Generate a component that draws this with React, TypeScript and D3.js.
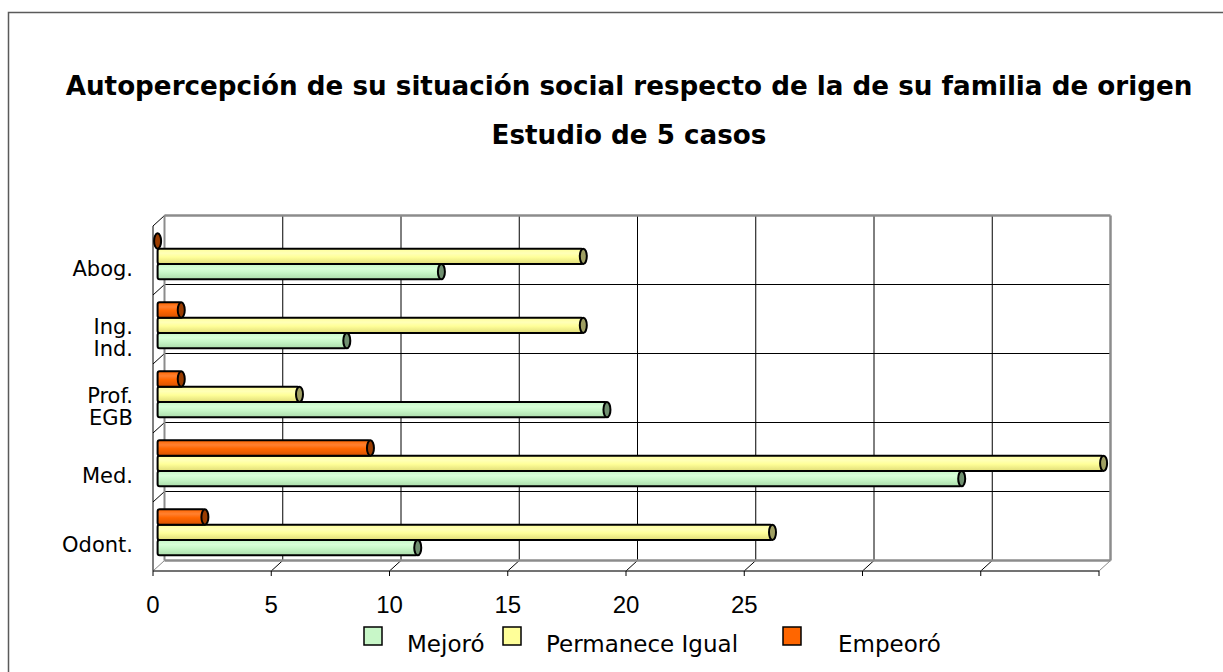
import * as d3 from 'd3';

// Data (Excel order: first category at the bottom)
const categories = ['Odont.', 'Med.', 'Prof.\nEGB', 'Ing.\nInd.', 'Abog.'];
const seriesNames = ['Mejoró', 'Permanece Igual', 'Empeoró'];
const mejoro = [11, 34, 19, 8, 12];
const permanece = [26, 40, 6, 18, 18];
const empeoro = [2, 9, 1, 1, 0];
const tickValues = [0, 5, 10, 15, 20, 25, 30, 35, 40];
const tickLabels = ['0', '5', '10', '15', '20', '25', '', '', ''];

const seriesValues = [mejoro, permanece, empeoro];
const seriesColors = [
  { light: '#d8ffd8', base: '#c8f7c8', dark: '#aadcaa', cap: '#6f8f6f' },
  { light: '#ffffb8', base: '#ffff99', dark: '#e0dc78', cap: '#9f9f62' },
  { light: '#ff8030', base: '#ff6600', dark: '#d85200', cap: '#9a3c00' },
];

const W = 1223;
const H = 672;
const front = { left: 153, right: 1099, top: 226, bottom: 571 };
const depth = { dx: 11.5, dy: -10.5 };
const barDepth = 0.4;

const App = () => {
  const x = d3.scaleLinear().domain([0, 40]).range([front.left, front.right]);
  const y = d3
    .scaleBand<string>()
    .domain([...categories].reverse())
    .range([front.top, front.bottom]);
  // series from top to bottom inside a band: Empeoró, Permanece, Mejoró
  const inner = d3
    .scaleBand<number>()
    .domain([2, 1, 0])
    .range([0, y.bandwidth()])
    .paddingOuter(0.75);

  const bx = (p: number) => p + depth.dx;
  const by = (p: number) => p + depth.dy;
  const bandEdges = [...y.domain().map((c) => y(c) as number), front.bottom];
  const barOffX = depth.dx * barDepth;
  const barOffY = depth.dy * barDepth;
  const rx = 3.5;

  return (
    <svg
      width={W}
      height={H}
      style={{ position: 'absolute', left: 0, top: 0, background: '#fff' }}
      fontFamily="'DejaVu Sans', Verdana, sans-serif"
    >
      <defs>
        {seriesColors.map((c, i) => (
          <linearGradient key={i} id={`grad${i}`} x1="0" y1="0" x2="0" y2="1">
            <stop offset="0%" stopColor={c.base} />
            <stop offset="30%" stopColor={c.light} />
            <stop offset="55%" stopColor={c.base} />
            <stop offset="100%" stopColor={c.dark} />
          </linearGradient>
        ))}
      </defs>

      {/* outer frame */}
      <rect x={8.5} y={12.5} width={1260} height={720} fill="none" stroke="#5a5a5a" strokeWidth={1.5} />

      {/* title */}
      <text x={629} y={95} textAnchor="middle" fontWeight="bold" fontSize={26.2}>
        Autopercepción de su situación social respecto de la de su familia de origen
      </text>
      <text x={629} y={144} textAnchor="middle" fontWeight="bold" fontSize={26.2}>
        Estudio de 5 casos
      </text>

      {/* back wall grid */}
      {bandEdges.slice(1, -1).map((e, i) => (
        <line key={`bh${i}`} x1={bx(front.left)} x2={bx(front.right)} y1={by(e)} y2={by(e)} stroke="#000" strokeWidth={1} />
      ))}
      {tickValues.slice(1, -1).map((t) => (
        <line key={`bv${t}`} x1={bx(x(t))} x2={bx(x(t))} y1={by(front.top)} y2={by(front.bottom)} stroke="#000" strokeWidth={1} />
      ))}

      {/* left wall */}
      {bandEdges.map((e, i) => (
        <line
          key={`ld${i}`}
          x1={front.left}
          y1={e}
          x2={bx(front.left)}
          y2={by(e)}
          stroke={i === bandEdges.length - 1 ? '#888' : '#000'}
          strokeWidth={1}
        />
      ))}
      <line x1={front.left} x2={front.left} y1={front.top} y2={front.bottom} stroke="#000" strokeWidth={1} />

      {/* floor */}
      {tickValues.slice(1).map((t, i) => (
        <line
          key={`fd${t}`}
          x1={x(t)}
          y1={front.bottom}
          x2={bx(x(t))}
          y2={by(front.bottom)}
          stroke={i === tickValues.length - 2 ? '#888' : '#000'}
          strokeWidth={1}
        />
      ))}
      <line x1={bx(front.left)} x2={bx(front.right)} y1={by(front.bottom)} y2={by(front.bottom)} stroke="#8c8c8c" strokeWidth={2.5} />
      <line x1={front.left} x2={front.right} y1={front.bottom} y2={front.bottom} stroke="#444" strokeWidth={1.5} />

      {/* back wall frame */}
      <line x1={bx(front.left)} x2={bx(front.right)} y1={by(front.top)} y2={by(front.top)} stroke="#8c8c8c" strokeWidth={2.5} />
      <line x1={bx(front.right)} x2={bx(front.right)} y1={by(front.top)} y2={by(front.bottom)} stroke="#8c8c8c" strokeWidth={2.5} />
      <line x1={bx(front.left)} x2={bx(front.left)} y1={by(front.top)} y2={by(front.bottom)} stroke="#8c8c8c" strokeWidth={2} />

      {/* ticks */}
      {tickValues.map((t) => (
        <line key={`tk${t}`} x1={x(t)} x2={x(t)} y1={front.bottom} y2={front.bottom + 5} stroke="#000" strokeWidth={1} />
      ))}
      {tickValues.map((t, i) => (
        <text
          key={`tl${t}`}
          x={x(t)}
          y={613}
          textAnchor="middle"
          fontSize={24}
          fontFamily="'Liberation Sans', Arial, sans-serif"
        >
          {tickLabels[i]}
        </text>
      ))}

      {/* bars */}
      {categories.map((cat, ci) =>
        seriesValues.map((vals, si) => {
          const v = vals[ci];
          const top = (y(cat) as number) + (inner(si) as number) + barOffY;
          const h = inner.bandwidth();
          const x0 = front.left + barOffX;
          const x1 = x(v) + barOffX;
          const c = seriesColors[si];
          return (
            <g key={`b${ci}-${si}`}>
              {v > 0 && (
                <rect
                  x={x0}
                  y={top}
                  width={x1 - x0}
                  height={h}
                  rx={2}
                  fill={`url(#grad${si})`}
                  stroke="#000"
                  strokeWidth={2}
                />
              )}
              <ellipse cx={x1} cy={top + h / 2} rx={rx} ry={h / 2} fill={c.cap} stroke="#000" strokeWidth={2} />
            </g>
          );
        })
      )}

      {/* category labels */}
      {categories.map((cat) => {
        const lines = cat.split('\n');
        const cy = (y(cat) as number) + y.bandwidth() / 2 + 8;
        const lh = 22;
        return (
          <text key={cat} textAnchor="end" fontSize={21}>
            {lines.map((l, li) => (
              <tspan key={li} x={133} y={cy + (li - (lines.length - 1) / 2) * lh + 7}>
                {l}
              </tspan>
            ))}
          </text>
        );
      })}

      {/* legend */}
      {seriesNames.map((name, i) => {
        const pos = [
          { sx: 364, tx: 407 },
          { sx: 503, tx: 546 },
          { sx: 783, tx: 838 },
        ][i];
        return (
          <g key={name}>
            <rect x={pos.sx} y={627} width={18} height={18} fill={seriesColors[i].base} stroke="#000" strokeWidth={1.5} />
            <text x={pos.tx} y={652} fontSize={23}>
              {name}
            </text>
          </g>
        );
      })}
    </svg>
  );
};

export default App;
